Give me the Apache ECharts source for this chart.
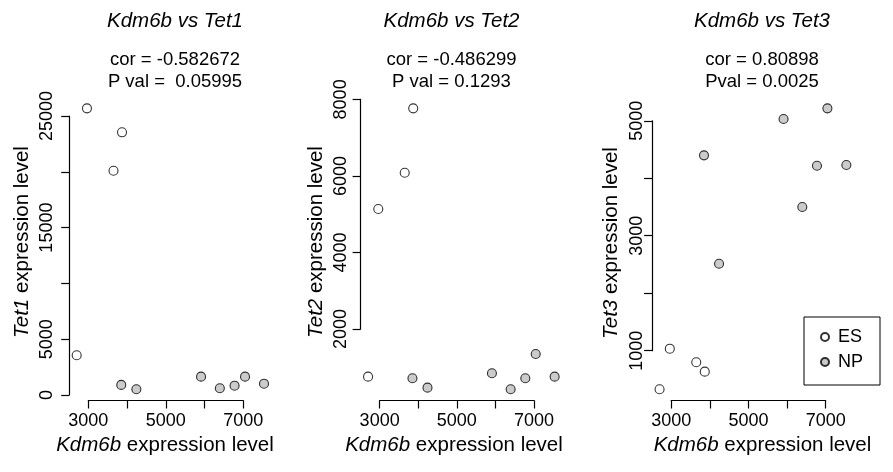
<!DOCTYPE html>
<html><head><meta charset="utf-8">
<script src="https://cdn.jsdelivr.net/npm/echarts@6/dist/echarts.min.js"></script>
<style>html,body{margin:0;padding:0;background:#fff}#c{width:893px;height:472px}</style>
</head><body><div id="c"></div>
<script>
// ---- data ----
const kdm6bES = [2700, 2965, 3650, 3870];
const kdm6bNP = [3850, 4240, 5910, 6395, 6775, 7045, 7535];
const tet1ES = [3560, 25690, 20100, 23540];
const tet1NP = [900, 510, 1640, 600, 830, 1640, 1010];
const tet2ES = [755, 5136, 6084, 7766];
const tet2NP = [713, 468, 844, 426, 713, 1348, 755];
const tet3ES = [329, 1035, 798, 635];
const tet3NP = [4398, 2513, 5030, 3499, 4217, 5216, 4230];

const xTickRange = [3000, 7000, 1000];
const xTickLabels = [3000, 5000, 7000];
const tet1TickRange = [0, 25000, 5000];
const tet1TickLabels = [0, 5000, 15000, 25000];
const tet2TickRange = [2000, 8000, 2000];
const tet2TickLabels = [2000, 4000, 6000, 8000];
const tet3TickRange = [1000, 5000, 1000];
const tet3TickLabels = [1000, 3000, 5000];

const genes = ['Tet1', 'Tet2', 'Tet3'];
const corTexts = ['cor = -0.582672', 'cor = -0.486299', 'cor = 0.80898'];
const pvalTexts = ['P val =  0.05995', 'P val = 0.1293', 'Pval = 0.0025'];
const seriesNames = ['ES', 'NP'];

// ---- layout ----
const FONT = '"Liberation Sans", Arial, Helvetica, sans-serif';
const T = 97.1, B = 400.5;
const panels = [
  {L: 69.2, R: 271.5, yES: tet1ES, yNP: tet1NP, ticks: tet1TickRange, labels: tet1TickLabels,
   titleX: 175, xlabX: 165, ylabX: 22, ylabY: 242, yMargin: 13},
  {L: 360.6, R: 562.1, yES: tet2ES, yNP: tet2NP, ticks: tet2TickRange, labels: tet2TickLabels,
   titleX: 451.5, xlabX: 454, ylabX: 316, ylabY: 242, yMargin: 10.5},
  {L: 652.1, R: 853.8, yES: tet3ES, yNP: tet3NP, ticks: tet3TickRange, labels: tet3TickLabels,
   titleX: 762, xlabX: 762.5, ylabX: 611, ylabY: 243, yMargin: 6.5}
];

function ext(arr) {
  const mn = Math.min(...arr), mx = Math.max(...arr), r = mx - mn;
  return [mn - 0.04 * r, mx + 0.04 * r];
}
function zip(a, b) { return a.map((v, i) => [v, b[i]]); }

const grids = [], xAxes = [], yAxes = [], series = [], graphics = [];
const axisLineStyle = {color: '#000', width: 1.2};

panels.forEach((p, i) => {
  const xl = ext(kdm6bES.concat(kdm6bNP));
  const yl = ext(p.yES.concat(p.yNP));
  const W = p.R - p.L, H = B - T;
  const g0 = grids.length;
  // main plot region
  grids.push({left: p.L, top: T, width: W, height: H, outerBoundsMode: 'none'});
  // x axis helper grid (axis spans first to last tick, as in R)
  const xL = p.L + (xTickRange[0] - xl[0]) / (xl[1] - xl[0]) * W;
  const xW = (xTickRange[1] - xTickRange[0]) / (xl[1] - xl[0]) * W;
  grids.push({left: xL, top: B - 1, width: xW, height: 1, outerBoundsMode: 'none'});
  // y axis helper grid
  const yT = T + (yl[1] - p.ticks[1]) / (yl[1] - yl[0]) * H;
  const yH = (p.ticks[1] - p.ticks[0]) / (yl[1] - yl[0]) * H;
  grids.push({left: p.L, top: yT, width: 1, height: yH, outerBoundsMode: 'none'});

  const xa0 = xAxes.length, ya0 = yAxes.length;
  xAxes.push({type: 'value', gridIndex: g0, min: xl[0], max: xl[1], show: false});
  xAxes.push({type: 'value', gridIndex: g0 + 1, min: xTickRange[0], max: xTickRange[1], interval: xTickRange[2],
    position: 'bottom',
    axisLine: {show: true, lineStyle: axisLineStyle},
    axisTick: {show: true, inside: false, length: 8, lineStyle: axisLineStyle},
    axisLabel: {show: true, margin: 12, fontSize: 18, color: '#000', fontFamily: FONT,
      formatter: v => xTickLabels.indexOf(v) >= 0 ? String(v) : ''},
    splitLine: {show: false}});
  xAxes.push({type: 'value', gridIndex: g0 + 2, min: 0, max: 1, show: false});

  yAxes.push({type: 'value', gridIndex: g0, min: yl[0], max: yl[1], show: false});
  yAxes.push({type: 'value', gridIndex: g0 + 1, min: 0, max: 1, show: false});
  yAxes.push({type: 'value', gridIndex: g0 + 2, min: p.ticks[0], max: p.ticks[1], interval: p.ticks[2],
    position: 'left',
    axisLine: {show: true, lineStyle: axisLineStyle},
    axisTick: {show: true, inside: false, length: 8, lineStyle: axisLineStyle},
    axisLabel: {show: true, rotate: 90, margin: p.yMargin, fontSize: 18, color: '#000', fontFamily: FONT,
      formatter: v => p.labels.indexOf(v) >= 0 ? String(v) : ''},
    splitLine: {show: false}});

  series.push({name: seriesNames[0], type: 'scatter', xAxisIndex: xa0, yAxisIndex: ya0,
    data: zip(kdm6bES, p.yES), symbol: 'circle', symbolSize: 9,
    itemStyle: {color: '#ffffff', borderColor: '#000', borderWidth: 1.1}});
  series.push({name: seriesNames[1], type: 'scatter', xAxisIndex: xa0, yAxisIndex: ya0,
    data: zip(kdm6bNP, p.yNP), symbol: 'circle', symbolSize: 9,
    itemStyle: {color: '#bebebe', borderColor: '#000', borderWidth: 1.1}});

  // texts
  graphics.push({type: 'text', x: p.titleX, y: 21, style: {
    text: 'Kdm6b vs ' + genes[i], fill: '#000', textAlign: 'center', textVerticalAlign: 'middle', verticalAlign: 'middle',
    font: 'italic 20.5px ' + FONT}});
  graphics.push({type: 'text', x: p.titleX, y: 60.3, style: {
    text: corTexts[i], fill: '#000', textAlign: 'center', textVerticalAlign: 'middle', verticalAlign: 'middle',
    font: '18.5px ' + FONT}});
  graphics.push({type: 'text', x: p.titleX, y: 82, style: {
    text: pvalTexts[i], fill: '#000', textAlign: 'center', textVerticalAlign: 'middle', verticalAlign: 'middle',
    font: '18.5px ' + FONT}});
  graphics.push({type: 'text', x: p.xlabX, y: 445.5, style: {
    text: '{i|Kdm6b} expression level', fill: '#000', textAlign: 'center', textVerticalAlign: 'middle', verticalAlign: 'middle',
    font: '20.5px ' + FONT,
    rich: {i: {fontStyle: 'italic', fontSize: 20.5, fontFamily: FONT, fill: '#000', color: '#000'}}}});
  graphics.push({type: 'text', x: p.ylabX, y: p.ylabY, rotation: Math.PI / 2, style: {
    text: '{i|' + genes[i] + '} expression level', fill: '#000', textAlign: 'center', textVerticalAlign: 'middle', verticalAlign: 'middle',
    font: '20.5px ' + FONT,
    rich: {i: {fontStyle: 'italic', fontSize: 20.5, fontFamily: FONT, fill: '#000', color: '#000'}}}});
});

const chart = echarts.init(document.getElementById('c'), null, {renderer: 'canvas'});
chart.setOption({
  animation: false,
  backgroundColor: '#fff',
  grid: grids,
  xAxis: xAxes,
  yAxis: yAxes,
  series: series,
  legend: {
    data: seriesNames, orient: 'vertical', left: 804, top: 317,
    icon: 'circle', itemWidth: 8, itemHeight: 8, itemGap: 7,
    padding: [11, 17, 14, 16], borderColor: '#000', borderWidth: 1, borderRadius: 0,
    selectedMode: false,
    textStyle: {fontSize: 18, color: '#000', fontFamily: FONT, lineHeight: 18, padding: [0, 0, 0, 4]}
  },
  graphic: graphics
});
</script></body></html>
